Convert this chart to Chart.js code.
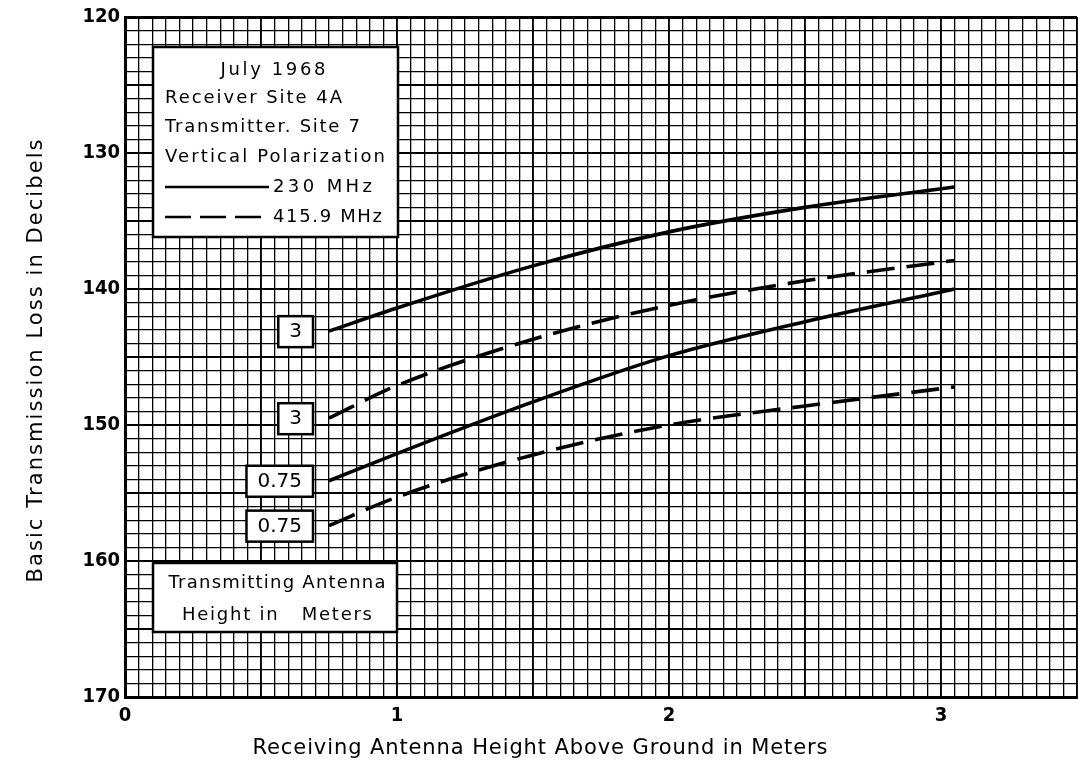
<!DOCTYPE html>
<html lang="en">
<head>
<meta charset="UTF-8">
<title>Basic Transmission Loss vs Receiving Antenna Height</title>
<script src="https://cdn.jsdelivr.net/npm/chart.js"></script>
<style>
  html, body { margin: 0; padding: 0; background: #fff; overflow: hidden; }
  #wrap { width: 1084px; height: 763px; }
</style>
</head>
<body>
<div id="wrap"><canvas id="lossChart" width="1084" height="763"></canvas></div>
<script>
// receiving antenna height above ground (m)
var heights = [0.75, 1.0, 1.5, 2.0, 2.5, 3.05];
// basic transmission loss (dB), one array per curve
var loss230_3m   = [143.1, 141.4, 138.3, 135.8, 134.0, 132.5];
var loss416_3m   = [149.5, 147.1, 143.7, 141.2, 139.4, 137.9];
var loss230_075m = [154.1, 152.1, 148.3, 144.9, 142.4, 140.0];
var loss416_075m = [157.4, 155.3, 152.2, 150.0, 148.6, 147.2];
// transmitting antenna height tag of each curve
var txHeights = ['3', '3', '0.75', '0.75'];
var yTickLabels = [120, 130, 140, 150, 160, 170];
var xTickLabels = [0, 1, 2, 3];
var legendLines = ['July 1968', 'Receiver Site 4A', 'Transmitter. Site 7', 'Vertical Polarization'];
var freqLabels = ['230 MHz', '415.9 MHz'];
var noteLines = ['Transmitting Antenna', 'Height in   Meters'];
var xTitle = 'Receiving Antenna Height Above Ground in Meters';
var yTitle = 'Basic Transmission Loss in Decibels';

var FONT = '"DejaVu Sans", sans-serif';
var TICKFONT = '"Liberation Sans Narrow", "DejaVu Sans Condensed", sans-serif';
var DASH = [28, 12];

function near(v, step) {
    return Math.abs(v / step - Math.round(v / step)) < 1e-6;
}

function series(vals, dashed) {
    return {
        data: heights.map(function (h, i) { return { x: h, y: vals[i] }; }),
        borderColor: '#000',
        borderWidth: 3.6,
        borderDash: dashed ? DASH : [],
        pointRadius: 0,
        cubicInterpolationMode: 'monotone',
        fill: false
    };
}

// text spread out to a given width (old lettering guide look)
function fitText(c, text, x, y, width, align) {
    c.letterSpacing = '0px';
    var w = c.measureText(text).width;
    var sp = text.length > 1 ? (width - w) / (text.length - 1) : 0;
    c.letterSpacing = sp + 'px';
    var left = align === 'center' ? x - width / 2 : x;
    c.textAlign = 'left';
    c.fillText(text, left, y);
    c.letterSpacing = '0px';
}

function box(c, x1, y1, x2, y2) {
    c.save();
    c.fillStyle = '#fff';
    c.fillRect(x1, y1, x2 - x1, y2 - y1);
    c.strokeStyle = '#000';
    c.lineWidth = 2.5;
    c.strokeRect(x1, y1, x2 - x1, y2 - y1);
    c.restore();
}

var annotations = {
    id: 'annotations',
    afterDraw: function (chart) {
        var c = chart.ctx;
        var xs = chart.scales.x, ys = chart.scales.y;
        c.save();
        c.fillStyle = '#000';
        c.textBaseline = 'middle';

        // legend box
        box(c, 153, 47, 398, 237);
        c.font = '18px ' + FONT;
        fitText(c, legendLines[0], 273, 70, 105, 'center');
        fitText(c, legendLines[1], 165, 98, 177);
        fitText(c, legendLines[2], 165, 127, 195);
        fitText(c, legendLines[3], 165, 157, 220);
        c.strokeStyle = '#000';
        c.lineWidth = 2.5;
        c.beginPath(); c.moveTo(165, 187); c.lineTo(269, 187); c.stroke();
        c.setLineDash([26, 9]);
        c.beginPath(); c.moveTo(165, 217); c.lineTo(269, 217); c.stroke();
        c.setLineDash([]);
        fitText(c, freqLabels[0], 273, 187, 99);
        fitText(c, freqLabels[1], 273, 217, 109);

        // note box
        box(c, 153, 563, 397, 632);
        fitText(c, noteLines[0], 277, 583, 217, 'center');
        fitText(c, noteLines[1], 277, 615, 190, 'center');

        // transmitting antenna height tags
        var all = [loss230_3m, loss416_3m, loss230_075m, loss416_075m];
        c.font = '20px ' + FONT;
        all.forEach(function (vals, i) {
            var right = xs.getPixelForValue(heights[0]) - 16;
            var cy = ys.getPixelForValue(vals[0]);
            var tw = c.measureText(txHeights[i]).width;
            var w = tw + 22;
            box(c, right - w, cy - 15, right, cy + 16);
            c.fillStyle = '#000';
            c.textAlign = 'center';
            c.fillText(txHeights[i], right - w / 2, cy + 1);
        });

        // axis titles
        c.font = '21px ' + FONT;
        fitText(c, xTitle, 540, 749, 575, 'center');
        c.translate(37, 361);
        c.rotate(-Math.PI / 2);
        fitText(c, yTitle, 0, 0, 443, 'center');
        c.restore();
    }
};

var chart = new Chart(document.getElementById('lossChart').getContext('2d'), {
    type: 'line',
    data: {
        datasets: [
            series(loss230_3m, false),
            series(loss416_3m, true),
            series(loss230_075m, false),
            series(loss416_075m, true)
        ]
    },
    options: {
        responsive: false,
        animation: false,
        layout: { padding: { top: 16, left: 0, right: 0, bottom: 0 } },
        plugins: { legend: { display: false }, tooltip: { enabled: false } },
        scales: {
            x: {
                type: 'linear',
                min: 0,
                max: 3.5,
                afterFit: function (s) { s.height = 66; },
                border: { color: '#000', width: 3 },
                grid: {
                    color: '#000',
                    drawTicks: false,
                    lineWidth: function (ctx) { return near(ctx.tick.value, 0.5) ? 1.9 : 1.3; }
                },
                ticks: {
                    stepSize: 0.05,
                    maxTicksLimit: 200,
                    autoSkip: false,
                    maxRotation: 0,
                    padding: 7,
                    color: '#000',
                    font: { family: TICKFONT, size: 20, weight: 'bold' },
                    callback: function (v) {
                        return near(v, 1) && xTickLabels.indexOf(Math.round(v)) >= 0 ? String(Math.round(v)) : '';
                    }
                }
            },
            y: {
                type: 'linear',
                reverse: true,
                min: 120,
                max: 170,
                afterFit: function (s) { s.width = 125; },
                border: { color: '#000', width: 3 },
                grid: {
                    color: '#000',
                    drawTicks: false,
                    lineWidth: function (ctx) {
                        var v = ctx.tick.value;
                        if (v === 120) return 3;
                        return near(v, 5) ? 1.9 : 1.3;
                    }
                },
                ticks: {
                    stepSize: 1,
                    maxTicksLimit: 200,
                    autoSkip: false,
                    padding: 5,
                    color: '#000',
                    font: { family: TICKFONT, size: 20, weight: 'bold' },
                    callback: function (v) {
                        return yTickLabels.indexOf(Math.round(v)) >= 0 && near(v, 1) ? String(Math.round(v)) : '';
                    }
                }
            }
        }
    },
    plugins: [annotations]
});
</script>
</body>
</html>
